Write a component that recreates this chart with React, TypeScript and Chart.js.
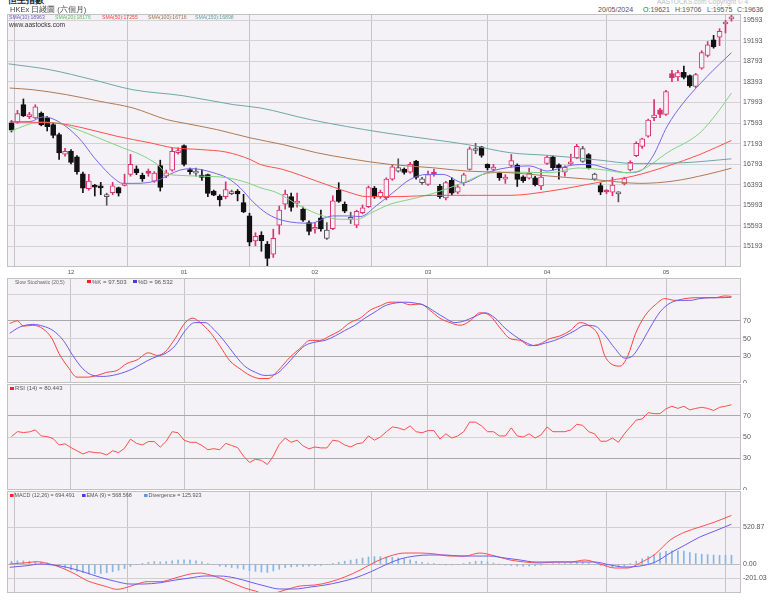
import React, { useEffect, useRef } from "react";
import { Chart, registerables } from "chart.js";
Chart.register(...registerables);

const FONT = "'Liberation Sans', 'DejaVu Sans', Arial, sans-serif";
const BG = "#f4f2f6";
const PINK = "#d8336e";
const BLACK = "#111111";
const GREY = "#555555";

// ---------- data (daily candles, 17/11/2023 .. 20/05/2024) ----------
const prevClose = 17832;
const opens = [17600,17610,17952,17720,17694,17790,17694,17564,17370,16990,17046,16938,16608,16318,16380,16360,16160,16240,16337,16380,16595,16705,16575,16660,16465,16769,16562,16678,17020,17157,16690,16620,16580,16593,16271,16175,16163,16220,16265,16047,15787,15302,15410,15238,15044,15606,16014,16163,16034,15916,15660,15529,15750,15348,15540,16290,16014,15720,15606,15850,15969,16330,16163,16144,16500,16660,16700,16640,16853,16435,16400,16640,16370,16140,16480,16250,16434,16692,17060,17130,16790,16692,16628,16500,16770,16770,16550,16520,16530,16370,16808,16938,16780,16640,16800,16920,16850,16980,16500,16380,16265,16250,16215,16410,16680,16960,17140,17337,17700,17850,17760,18555,18490,18580,18515,18306,18663,18907,19211,19263,19521,19621];
const highs = [17640,17840,18062,17803,17950,17810,17720,17600,17400,17100,17080,16960,16640,16595,16400,16440,16230,16440,16350,16600,16983,16760,16620,16700,16650,16872,16680,17100,17110,17170,16720,16720,16690,16600,16290,16200,16450,16290,16300,16207,15840,15460,15480,15290,15529,15980,16290,16230,16230,15960,15690,15660,15900,15660,16180,16434,16060,15860,15900,16000,16370,16360,16290,16530,16780,16899,16720,16830,16870,16540,16660,16700,16400,16460,16530,16400,16620,17130,17200,17140,16800,16790,16640,16590,16983,16800,16570,16720,16560,16700,16960,16950,16800,16760,16990,17180,17140,17000,16620,16430,16300,16540,16260,16540,16860,17230,17300,17670,18050,17880,18230,18620,18620,18700,18530,18560,19000,19180,19300,19430,19590,19706];
const lows = [17420,17590,17720,17680,17680,17540,17440,17306,16886,16950,16800,16600,16240,16290,16175,16200,15995,16200,16174,16370,16560,16590,16460,16560,16440,16271,16530,16660,16990,16760,16600,16560,16480,16160,16180,15980,16120,16200,16080,15850,15206,15206,15100,14794,14980,15432,15920,15880,15960,15680,15420,15450,15490,15330,15520,16050,15850,15640,15560,15830,15950,16130,16130,16100,16480,16640,16600,16620,16500,16400,16380,16560,16130,16100,16200,16220,16380,16680,17000,16930,16680,16660,16480,16420,16740,16360,16440,16500,16370,16300,16790,16680,16500,16560,16780,16900,16830,16700,16480,16200,16220,16180,16060,16390,16660,16940,17100,17320,17640,17700,17740,18400,18420,18450,18290,18280,18640,18880,19050,19100,19347,19575];
const closes = [17454,17778,17733,17734,17911,17559,17525,17354,17013,17043,16830,16646,16327,16463,16345,16334,16201,16374,16228,16402,16792,16629,16505,16613,16621,16340,16624,17043,17047,16789,16646,16645,16535,16224,16190,16098,16302,16245,16217,15866,15277,15392,15308,14961,15353,15899,16212,15952,16077,15703,15485,15566,15533,15510,16082,16070,15878,15747,15879,15944,16340,16156,16248,16503,16743,16726,16634,16790,16536,16511,16590,16596,16163,16438,16230,16354,16588,17093,17082,16962,16721,16737,16530,16544,16863,16499,16473,16618,16393,16541,16931,16725,16724,16733,16828,17139,17095,16722,16601,16249,16252,16386,16224,16512,16829,17201,17285,17651,17747,17763,18207,18476,18578,18480,18314,18538,18964,19116,19074,19377,19554,19636];

// moving averages: [candle index, value]
const sma10 = [[-0.3,17616],[3.1,17622],[5.3,17713],[6.5,17694],[7.8,17628],[9.8,17467],[11.8,17240],[13.7,16950],[15.4,16725],[17.1,16531],[18.7,16421],[20.4,16421],[22.8,16434],[25,16498],[26.6,16595],[28.3,16678],[30,16706],[31.7,16692],[33.9,16628],[36.2,16531],[38.4,16337],[40.6,16060],[43,15830],[45.6,15700],[50.2,15645],[54,15787],[56.9,15787],[58.6,15775],[61.4,15994],[64.1,16240],[67,16498],[69.8,16595],[72.5,16595],[75.9,16434],[79.2,16595],[82.1,16700],[87.1,16760],[90,16660],[93.9,16770],[97.2,16789],[100.6,16692],[103.4,16628],[105.6,16659],[107.8,16950],[110.2,17531],[112.9,17985],[116.9,18500],[121,18963]];
const sma20 = [[-0.3,17434],[4.8,17609],[7.6,17597],[10.3,17500],[13.2,17370],[16,17240],[18.7,17112],[21.6,16983],[24.5,16789],[26.1,16614],[28.3,16575],[31.7,16562],[36.2,16531],[39.6,16434],[41.8,16337],[44.6,16240],[48.5,15981],[52.4,15787],[55.2,15723],[58.1,15723],[60.3,15839],[63.6,16014],[67,16110],[70.3,16207],[73.7,16337],[76.6,16465],[79.2,16595],[83.8,16640],[90.5,16628],[95.2,16720],[98.9,16692],[103.4,16628],[106.1,16692],[110.2,17016],[115.7,17403],[118.6,17791],[121,18176]];
const sma50 = [[-0.3,17616],[3.6,17609],[8.2,17583],[12,17500],[17.7,17337],[23.3,17209],[27.2,17112],[31.7,17079],[36.2,17027],[40.1,16886],[41.8,16789],[45.6,16692],[51.3,16465],[56.9,16240],[59.7,16163],[65.3,16163],[70.8,16188],[76.6,16188],[83.8,16188],[90.5,16271],[98.9,16446],[104.5,16562],[110.2,16756],[115.7,16983],[121,17255]];
const sma100 = [[-0.3,18275],[3.6,18242],[9.3,18145],[14.9,18015],[20.4,17888],[26.1,17661],[28.8,17597],[34.5,17467],[40.1,17306],[45.6,17176],[51.3,17016],[56.9,16899],[63.6,16789],[70.8,16725],[76.6,16659],[83.8,16628],[90.5,16562],[98.9,16484],[105.6,16421],[111.2,16465],[116.9,16595],[121,16716]];
const sma150 = [[-0.5,18746],[6.5,18630],[13.7,18436],[20.4,18242],[28.8,18126],[37.3,17952],[41.8,17888],[50.2,17661],[62.4,17409],[70.8,17273],[76.6,17176],[83.8,17016],[90.5,16963],[98.9,16872],[104.5,16808],[112.9,16822],[121,16898]];

// slow stochastic (20,5)
const stochK = [[-0.3,67],[1,70],[2,64],[3.6,65],[5.3,61],[6.8,50],[8,33],[9.5,18],[11,6.6],[12.7,6.6],[14.4,8.5],[16,12],[17.7,14],[19.4,22],[21.1,26],[23,34],[24.5,31],[25.8,35],[27.5,50],[29.2,68],[30.5,73],[31.7,68],[33.4,57],[35,42],[36.7,25],[38.4,16],[40.1,8.5],[41.8,5],[43.1,5],[44.8,14],[46.8,29],[48.5,39],[50.2,48],[51.8,48],[53.5,53],[55.2,59],[56.9,68],[58.6,73],[60.3,82],[62,87],[63.6,91],[65.3,91],[67,88],[68.7,89],[70.3,82],[72,73],[73.7,68],[75.4,65],[77.1,70],[78.7,79],[80.4,76],[82.1,62],[83.8,50],[85.5,48],[87.1,42],[88.8,44],[90.5,50],[92.2,53],[93.9,59],[95.6,68],[97.2,64],[98.6,54],[99.7,31],[100.9,21],[102.3,19],[103.6,31],[104.9,56],[106.5,76],[108.2,88],[109.8,95],[111.5,93],[113.2,95],[114.9,96],[116.6,96],[118.2,96],[119.9,98],[121,97.503]];
const stochD = [[-0.3,56],[1.4,63],[3.6,66],[5.3,64],[7,59],[8.7,48],[10.3,31],[12,16],[13.7,8.5],[15.4,7.4],[17.7,9.6],[20.4,16],[22.8,25],[24.5,30],[25.8,33],[27.5,42],[29.2,59],[30.8,68],[32.5,68],[34.2,59],[35.9,46],[37.6,31],[39.2,19],[41,12],[42.6,8.5],[44.3,9.6],[46,19],[47.6,31],[49.3,42],[51,46],[52.7,48],[54.4,53],[56,59],[57.7,65],[59.4,73],[61.1,80],[62.8,87],[64.5,90],[66.1,91],[67.8,90],[69.5,87],[71.2,80],[72.9,73],[74.5,68],[76.2,70],[77.9,75],[79.6,79],[81.3,73],[82.9,62],[84.6,53],[86.3,46],[88,42],[89.7,45],[91.3,48],[93,53],[94.7,59],[96.4,65],[98.1,64],[99.7,54],[101.4,39],[103.1,28],[104.3,30],[105.6,42],[107.3,62],[109,80],[110.7,90],[112.4,93],[114,93],[115.7,95],[117.4,96],[119.1,96],[121,96.532]];

// RSI (14), one value per candle
const rsi14 = [50.4,55.1,54.2,54.8,56.7,51,50.4,48.5,42.5,43.5,40,37,34,36.2,35.3,35,33,37,35.3,39.4,48,44,42.5,45.7,45.7,40.4,46,55,54,47,45,45,42,38,39,38,44,42,40,32,26,29,28,24,32,43,49,45,47,41.6,38.8,40.6,39.7,39.7,47,46,42.5,40.6,43.5,44.5,51,47,50,55,59.5,58.6,56.7,60.5,55,54,56,56,48,53,49,51,55,64,64,60.5,55,55,51,51,58.6,51,50,53,49,52,59.5,55,55,55,56.7,62,61,55,53,46,46,49,45,53,59.5,66,67,73,72,72,76.6,79,77,79,75.6,77,78,77,75,78,79,80.443];

// MACD (12,26) and EMA (9): [candle index, value]
const macdLine = [[-0.3,0],[2.6,19],[4.3,33],[6,10],[7.6,-29],[9.3,-86],[11,-157],[12.7,-238],[14.4,-286],[16,-324],[17.7,-362],[19.4,-333],[21.1,-286],[22.8,-252],[25,-252],[27.5,-200],[30,-143],[31.7,-129],[33.4,-157],[35,-200],[36.7,-257],[39.2,-343],[41,-386],[42.6,-429],[44.3,-414],[46,-371],[48.5,-314],[51,-300],[53.5,-257],[56,-186],[58.6,-86],[61.1,29],[63.6,114],[66.1,157],[68.7,157],[71.2,143],[73.7,114],[76.2,114],[78.7,157],[81.3,114],[83.8,57],[86.3,29],[88.8,14],[91.3,29],[93.9,29],[96.4,57],[98.9,0],[101.4,-57],[103.6,-57],[105.6,14],[108.2,143],[110.7,343],[113.2,457],[115.7,529],[118.2,600],[121,694.491]];
const emaLine = [[-0.3,-47],[2.6,-24],[4.8,0],[7,-14],[9.3,-47],[12,-110],[14.9,-190],[17.7,-252],[19.9,-286],[22.1,-286],[25,-267],[27.5,-229],[30,-200],[32.5,-171],[35,-171],[37.6,-200],[40.1,-257],[42.6,-314],[45.1,-357],[47.6,-357],[50.2,-329],[52.7,-300],[55.2,-257],[57.7,-200],[60.3,-114],[62.8,-14],[65.3,71],[67.8,114],[70.3,129],[72.9,129],[75.4,114],[77.9,114],[80.4,114],[82.9,86],[85.5,57],[88,29],[90.5,29],[93,29],[95.5,29],[98,29],[100.6,-14],[103.1,-43],[105.6,-29],[108.2,29],[110.7,157],[113.2,271],[115.7,386],[118.2,471],[121,568.568]];
const divergence = [40,45,45,40,33,25,15,-10,-35,-60,-85,-105,-125,-140,-140,-135,-125,-110,-90,-65,-35,-10,10,25,35,30,35,45,55,60,55,45,30,10,-10,-30,-40,-50,-60,-75,-95,-105,-115,-120,-100,-75,-50,-40,-35,-35,-30,-25,-20,-10,10,25,40,55,70,85,100,105,105,100,95,85,75,60,40,25,15,10,-5,-12,-12,-5,5,25,40,40,30,15,0,-15,-20,-28,-30,-28,-25,-15,0,5,5,10,15,25,28,15,-5,-20,-35,-40,-40,-25,5,40,75,105,130,160,180,190,190,185,165,150,140,135,128,125,125,125.923];

// axes
const monthTickIdx = [10, 29, 51, 70, 90, 110];
const monthTickLabels = ["12", "01", "02", "03", "04", "05"];
const priceTicks = [15193, 15593, 15993, 16393, 16793, 17193, 17593, 17993, 18393, 18793, 19193, 19593];
const stochTicks = [0, 30, 50, 70, 100];
const rsiTicks = [0, 30, 50, 70];
const macdTicks = [-201.03, 0, 520.87];

const X_MIN = -0.756;
const X_MAX = 122.605;

// ---------- helpers ----------
const candleColor = (i: number) => {
  const pc = i === 0 ? prevClose : closes[i - 1];
  const up = closes[i] >= opens[i];
  if (up) return closes[i] >= pc ? PINK : GREY;
  return closes[i] > pc ? PINK : BLACK;
};
const pts = (pairs: number[][]) => pairs.map(([x, y]) => ({ x, y }));

const panelPlugin = {
  id: "panelFrame",
  beforeDraw(chart: any) {
    const { ctx, chartArea: a } = chart;
    ctx.save();
    ctx.fillStyle = BG;
    ctx.fillRect(a.left, a.top, a.right - a.left, a.bottom - a.top);
    ctx.restore();
  },
  afterDraw(chart: any) {
    const { ctx, chartArea: a } = chart;
    ctx.save();
    ctx.strokeStyle = "#c2c2c2";
    ctx.lineWidth = 1;
    ctx.strokeRect(a.left + 0.5, a.top + 0.5, a.right - a.left - 1, a.bottom - a.top - 1);
    ctx.restore();
  },
};

const zeroPad = (axis: any) => {
  axis.paddingTop = 0;
  axis.paddingBottom = 0;
  axis.paddingLeft = 0;
  axis.paddingRight = 0;
};

const xScale = (labels: boolean, h: number) => ({
  type: "linear",
  min: X_MIN,
  max: X_MAX,
  offset: false,
  afterBuildTicks: (axis: any) => {
    axis.ticks = monthTickIdx.map((v) => ({ value: v }));
  },
  afterFit: (axis: any) => {
    axis.height = h;
    zeroPad(axis);
  },
  grid: { color: "#c4c4c4", drawTicks: false, lineWidth: 1 },
  border: { display: false },
  ticks: {
    display: labels,
    autoSkip: false,
    maxRotation: 0,
    padding: 2,
    color: "#555",
    font: { family: FONT, size: 6 },
    callback: (v: number) => monthTickLabels[monthTickIdx.indexOf(v)] ?? "",
  },
});

const yScale = (min: number, max: number, ticks: number[], label: (v: number) => string, gridColor: (v: number) => string) => ({
  position: "right",
  min,
  max,
  afterBuildTicks: (axis: any) => {
    axis.ticks = ticks.map((v) => ({ value: v }));
  },
  afterFit: (axis: any) => {
    axis.width = 27;
    zeroPad(axis);
  },
  grid: {
    drawTicks: false,
    lineWidth: 1,
    color: (c: any) => gridColor(c.tick ? c.tick.value : 0),
  },
  border: { display: false },
  ticks: {
    padding: 2,
    color: "#555",
    font: { family: FONT, size: 7 },
    callback: (v: number) => label(v),
  },
});

const baseOptions = (scales: any) => ({
  responsive: false,
  animation: false,
  devicePixelRatio: 1,
  events: [],
  layout: { padding: 0, autoPadding: false },
  plugins: { legend: { display: false }, tooltip: { enabled: false } },
  scales,
});

const lineDs = (data: any[], color: string, smooth = true) => ({
  type: "line",
  data,
  borderColor: color,
  borderWidth: 1,
  pointRadius: 0,
  fill: false,
  tension: 0,
  cubicInterpolationMode: smooth ? "monotone" : "default",
  order: 0,
});

// ---------- chart configs ----------
const mainConfig = () => {
  const colors = closes.map((_, i) => candleColor(i));
  const bodyBg = closes.map((c, i) => (c >= opens[i] ? BG : colors[i]));
  return {
    type: "bar",
    data: {
      datasets: [
        lineDs(pts(sma150), "#6fa7aa"),
        lineDs(pts(sma100), "#b07a55"),
        lineDs(pts(sma50), "#ff4f4f"),
        lineDs(pts(sma20), "#82d482"),
        lineDs(pts(sma10), "#7567ee"),
        {
          type: "bar",
          data: closes.map((c, i) => ({ x: i, y: [opens[i], c] })),
          backgroundColor: bodyBg,
          borderColor: colors,
          borderWidth: 1,
          borderSkipped: false,
          barThickness: 5,
          minBarLength: 2,
          grouped: false,
          order: 1,
        },
        {
          type: "bar",
          data: closes.map((_, i) => ({ x: i, y: [lows[i], highs[i]] })),
          backgroundColor: colors,
          borderWidth: 0,
          barThickness: 1,
          grouped: false,
          order: 2,
        },
      ],
    },
    options: baseOptions({
      x: xScale(true, 10),
      y: yScale(14794, 19715, priceTicks, (v) => String(v), () => "#d3d3d3"),
    }),
    plugins: [panelPlugin],
  };
};

const levelGrid = (v: number) => (v === 70 || v === 30 ? "#a9a9a9" : "#d3d3d3");

const stochConfig = () => ({
  type: "line",
  data: {
    datasets: [lineDs(pts(stochD), "#6b5cf0"), lineDs(pts(stochK), "#ff4040")],
  },
  options: baseOptions({
    x: xScale(false, 0),
    y: yScale(0, 118.2, stochTicks, (v) => (v === 100 ? "" : String(v)), levelGrid),
  }),
  plugins: [panelPlugin],
});

const rsiConfig = () => ({
  type: "line",
  data: {
    datasets: [lineDs(rsi14.map((v, i) => ({ x: i, y: v })), "#ff4d4d", false)],
  },
  options: baseOptions({
    x: xScale(false, 0),
    y: yScale(0, 100, rsiTicks, (v) => String(v), levelGrid),
  }),
  plugins: [panelPlugin],
});

const macdConfig = () => ({
  type: "bar",
  data: {
    datasets: [
      lineDs(pts(emaLine), "#6b5cf0"),
      lineDs(pts(macdLine), "#ff4d4d"),
      {
        type: "bar",
        data: divergence.map((v, i) => ({ x: i, y: v })),
        backgroundColor: "#86b6e4",
        borderWidth: 0,
        barThickness: 1,
        grouped: false,
        order: 2,
      },
    ],
  },
  options: baseOptions({
    x: xScale(false, 0),
    y: yScale(-414, 1043, macdTicks, (v) => v.toFixed(2), (v) => (v === 0 ? "#bdbdbd" : "#cfcfcf")),
  }),
  plugins: [panelPlugin],
});

// ---------- components ----------
function ChartCanvas({ build, left, top, width, height }: any) {
  const ref = useRef<HTMLCanvasElement>(null);
  useEffect(() => {
    const chart = new Chart(ref.current as HTMLCanvasElement, build() as any);
    return () => chart.destroy();
  }, []);
  return (
    <canvas
      ref={ref}
      width={width}
      height={height}
      style={{ position: "absolute", left, top, width, height, display: "block" }}
    />
  );
}

const txt = (left: number, top: number, size: number, color: string, sx = 1, extra: any = {}) => ({
  position: "absolute" as const,
  left,
  top,
  fontSize: size,
  lineHeight: `${size + 1}px`,
  color,
  fontFamily: FONT,
  whiteSpace: "nowrap" as const,
  transform: sx === 1 ? undefined : `scaleX(${sx})`,
  transformOrigin: "left top",
  ...extra,
});

function Key({ left, top, color, text, size = 6, sx = 1 }: any) {
  return (
    <div style={txt(left, top, size, "#555", sx)}>
      <span style={{ display: "inline-block", width: 4, height: 3, background: color, marginRight: 1, verticalAlign: "middle" }} />
      {text}
    </div>
  );
}

export default function App() {
  return (
    <div style={{ position: "absolute", left: 0, top: 0, width: 768, height: 601, background: "#fff", overflow: "hidden" }}>
      <ChartCanvas build={mainConfig} left={7} top={14} width={761} height={263} />
      <ChartCanvas build={stochConfig} left={7} top={278} width={761} height={105} />
      <ChartCanvas build={rsiConfig} left={7} top={384} width={761} height={106} />
      <ChartCanvas build={macdConfig} left={7} top={491} width={761} height={102} />

      {/* header */}
      <div style={txt(8, -5, 9, "#222", 1, { fontWeight: "bold" })}>恒生指數</div>
      <div style={txt(10, 6, 7.5, "#444")}>HKEx 日綫圖 (六個月)</div>
      <div style={txt(9, 13.5, 6, "#6a5acd", 0.85)}>SMA(10):18963</div>
      <div style={txt(55, 13.5, 6, "#5cbf5c", 0.85)}>SMA(20):18176</div>
      <div style={txt(102, 13.5, 6, "#ff3b3b", 0.85)}>SMA(50):17255</div>
      <div style={txt(148, 13.5, 6, "#a0704a", 0.85)}>SMA(100):16716</div>
      <div style={txt(195, 13.5, 6, "#5f9ea0", 0.85)}>SMA(150):16898</div>
      <div style={txt(9, 20.5, 7.5, "#333", 0.88)}>www.aastocks.com</div>

      <div style={txt(657, -2, 6.5, "#bbbbbb")}>AASTOCKS.com Copyright © 4</div>
      <div style={txt(598, 6, 7, "#555")}>20/05/2024</div>
      <div style={txt(643, 6, 7, "#555")}>O:19621</div>
      <div style={txt(675, 6, 7, "#555")}>H:19706</div>
      <div style={txt(707, 6, 7, "#555")}>L:19575</div>
      <div style={txt(737, 6, 7, "#555")}>C:19636</div>

      {/* lower panel legends */}
      <div style={txt(15, 278.5, 6, "#666", 0.83)}>Slow Stochastic (20,5)</div>
      <Key left={87} top={278.5} color="#ff2020" text="%K = 97.503" />
      <Key left={133} top={278.5} color="#4a3ce0" text="%D = 96.532" />

      <Key left={10} top={385} color="#ff2020" text="RSI (14)  = 80.443" />

      <Key left={10} top={492} color="#ff2020" text="MACD (12,26) = 694.491" sx={0.9} />
      <Key left={82} top={492} color="#4a3ce0" text="EMA (9) = 568.568" sx={0.9} />
      <Key left={144} top={492} color="#5a9ae0" text="Divergence = 125.923" sx={0.9} />
    </div>
  );
}
